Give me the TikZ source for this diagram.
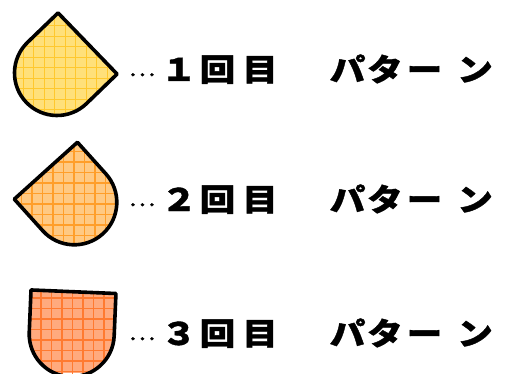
\documentclass[tikz,border=0pt]{standalone}
\usepackage{fontspec}
\newfontfamily\jpfont[FakeStretch=1.15,FakeBold=1.2]{Noto Sans CJK JP}
\definecolor{fillA}{HTML}{FFE07A}
\definecolor{gridA}{HTML}{FFC82E}
\definecolor{fillB}{HTML}{FFC983}
\definecolor{gridB}{HTML}{FF9E2A}
\definecolor{fillC}{HTML}{FFAA7E}
\definecolor{gridC}{HTML}{FF7A30}
\tikzset{
  outline/.style={draw=black,line width=3.6pt,line join=round},
  gridline/.style={line width=1.2pt},
  glyph/.style={inner sep=0pt,anchor=base,font=\jpfont\bfseries\fontsize{31}{31}\selectfont},
}
% square with its lower half rounded into a semicircle
\def\badge{(-42.5,42.5) -- (42.5,42.5) -- (42.5,0) arc[start angle=0,end angle=-180,radius=42.5] -- cycle}
\newcommand\drawbadge[5]{% #1 shift, #2 angle, #3 fill, #4 grid colour, #5 grid offset
  \begin{scope}
    \clip[shift={#1},rotate=#2] \badge;
    \fill[#3] (0,0) rectangle (140,373);
    \draw[gridline,#4,shift={#5}] (-20,-20) grid[step=10.5pt] (150,393);
  \end{scope}
  \draw[outline,shift={#1},rotate=#2] \badge;
}
\newcommand\leaderdots{\raisebox{5pt}{\mdseries\fontsize{22}{22}\selectfont …}}
\begin{document}
\begin{tikzpicture}[x=1pt,y=1pt]
  \useasboundingbox (0,0) rectangle (509,373);
  \begin{scope}
    \clip (0,0) rectangle (509,373);
    \drawbadge{(57,300)}{-46}{fillA}{gridA}{(2.3,0.7)}
    \drawbadge{(74.3,170.7)}{42}{fillB}{gridB}{(0.5,1)}
    \drawbadge{(71.7,38.8)}{-2.4}{fillC}{gridC}{(-1,1.5)}
  \end{scope}
  % captions
  \foreach \row/\num/\by in {1/１/292,2/２/162,3/３/28}{
    \foreach \ch/\cx [count=\i] in {\leaderdots/142,\num/179,回/217.5,目/260,パ/347.5,タ/385,ー/424.5,ン/475}{
      \node[glyph] (g\row-\i) at (\cx,\by) {\ch};
    }
  }
\end{tikzpicture}
\end{document}
